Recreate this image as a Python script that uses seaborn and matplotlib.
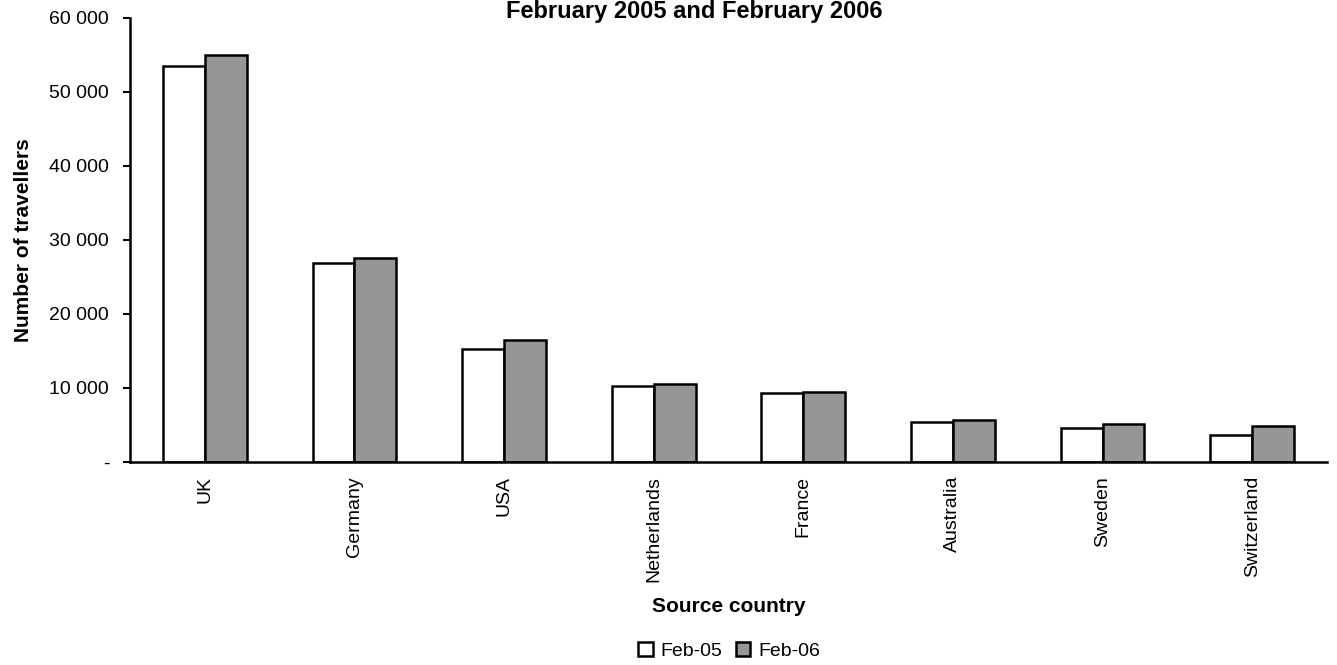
import numpy as np
import pandas as pd
import matplotlib
matplotlib.use("Agg")
import matplotlib.pyplot as plt
from matplotlib.ticker import FuncFormatter, FixedLocator
import seaborn as sns

sns.set_style("white")
plt.rcParams['font.family'] = ['Liberation Sans', 'DejaVu Sans']
plt.rcParams['text.color'] = 'black'
plt.rcParams['axes.labelcolor'] = 'black'
plt.rcParams['xtick.color'] = 'black'
plt.rcParams['ytick.color'] = 'black'

countries = ["UK", "Germany", "USA", "Netherlands", "France", "Australia", "Sweden", "Switzerland"]
feb05 = [53500, 26900, 15300, 10300, 9300, 5400, 4600, 3700]
feb06 = [55000, 27600, 16500, 10500, 9500, 5700, 5100, 4900]
periods = ["Feb-05", "Feb-06"]

df = pd.DataFrame({
    "country": countries * 2,
    "period": [periods[0]] * len(countries) + [periods[1]] * len(countries),
    "travellers": feb05 + feb06,
})

fig = plt.figure(figsize=(13.37, 6.65), dpi=100)
ax = fig.add_axes([130 / 1337, 1 - 462 / 665, (1327 - 130) / 1337, (462 - 18) / 665])

sns.barplot(data=df, x="country", y="travellers", hue="period",
            palette=["white", "#969696"], width=0.56, edgecolor="black",
            linewidth=1.8, ax=ax, legend=True)

ax.set_ylim(0, 60000)
ax.set_xlim(-0.5, len(countries) - 0.5)
ax.set_yticks(np.arange(0, 60001, 10000))
ax.yaxis.set_major_formatter(FuncFormatter(
    lambda v, p: "-" if v == 0 else f"{int(v):,}".replace(",", " ")))

# category ticks sit between groups, labels at the centres
ax.xaxis.set_minor_locator(FixedLocator(np.arange(-0.5, len(countries), 1.0)))
ax.tick_params(axis="x", which="major", length=0, pad=10, labelsize=14, rotation=90)
ax.tick_params(axis="x", which="minor", length=7, width=1.5, direction="out", color="black")
ax.tick_params(axis="y", length=5, width=1.5, direction="out", color="black", pad=10, labelsize=14, left=True)

for s in ["top", "right"]:
    ax.spines[s].set_visible(False)
for s in ["left", "bottom"]:
    ax.spines[s].set_linewidth(1.8)
    ax.spines[s].set_color("black")

ax.set_xlabel("Source country", fontsize=15, fontweight="bold", va="top")
ax.xaxis.set_label_coords(0.5, (462 - 597) / 444)
ax.set_ylabel("Number of travellers", fontsize=15, fontweight="bold", labelpad=12)

fig.text(694 / 1337, 1 - 18 / 665, "February 2005 and February 2006",
         ha="center", va="baseline", fontsize=17, fontweight="bold")

handles, labels = ax.get_legend_handles_labels()
ax.get_legend().remove()
fig.legend(handles, labels, loc="center", bbox_to_anchor=(729 / 1337, 1 - 651 / 665),
           ncol=2, frameon=False, fontsize=14, handlelength=0.75, handleheight=0.75,
           handletextpad=0.4, columnspacing=0.7)

fig.savefig("out.png", dpi=100)
